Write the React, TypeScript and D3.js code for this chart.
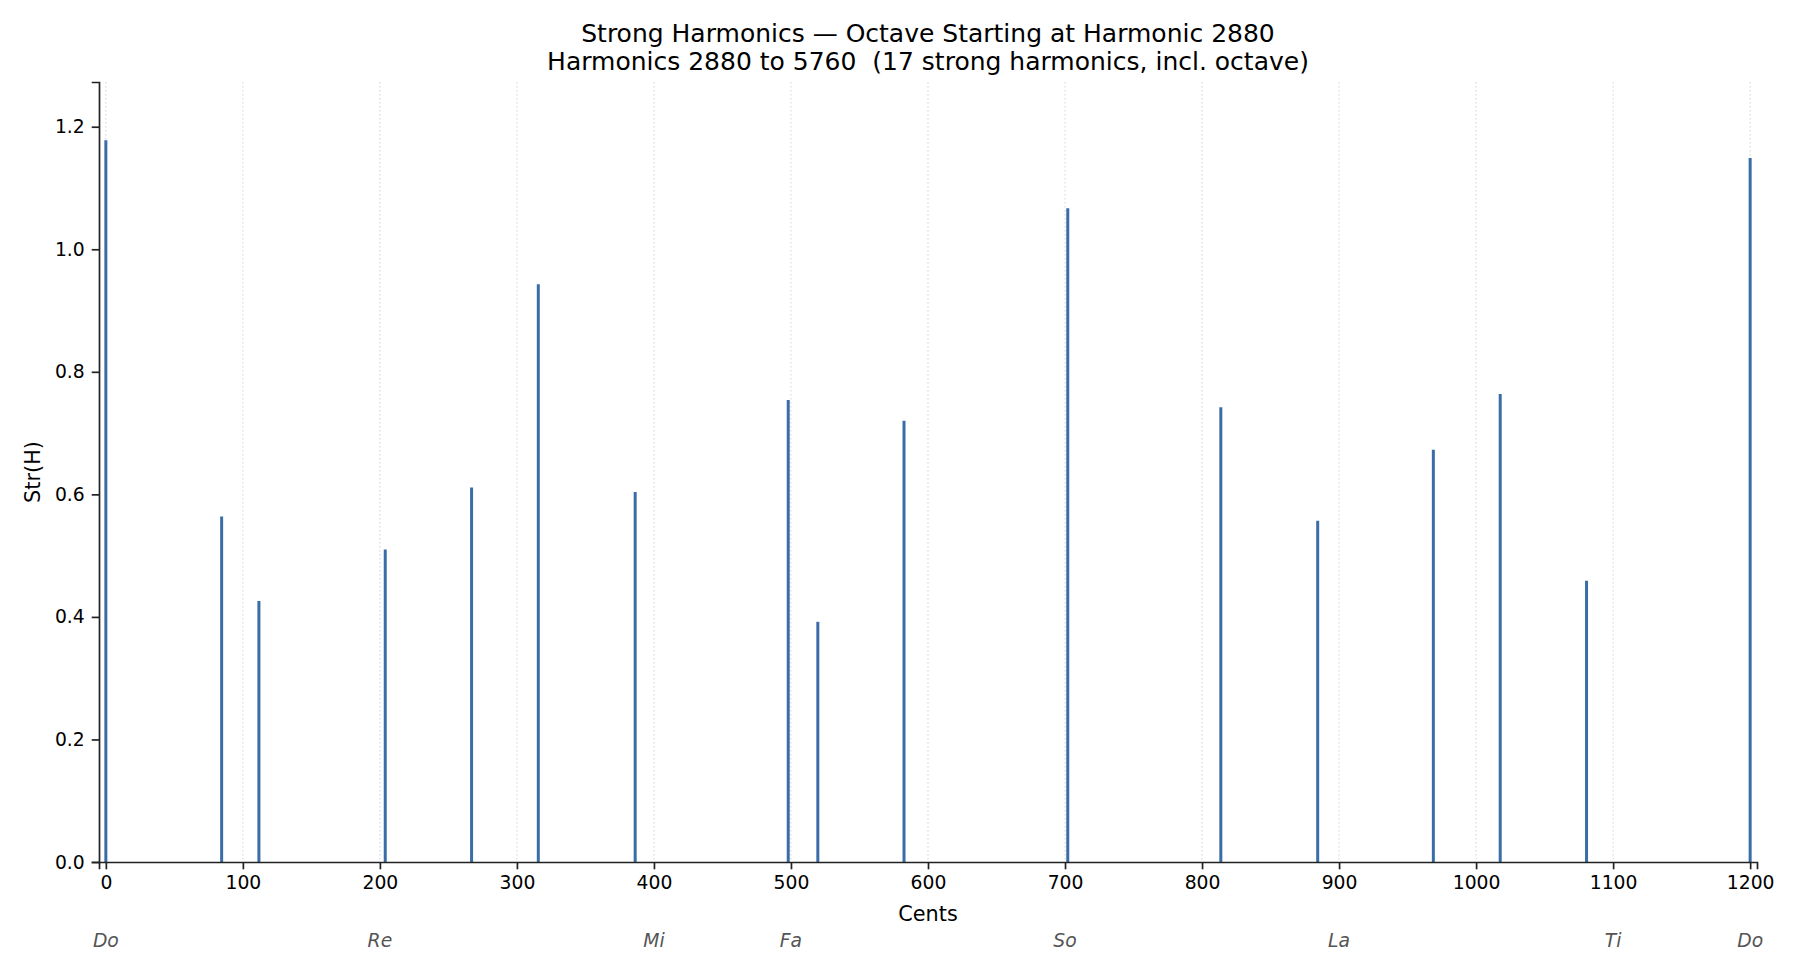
import React, { useRef, useEffect } from "react";
import * as d3 from "d3";

// strong harmonics in the octave 2880..5760, position in cents and strength
const cents = [
  0, 84.5, 111.7, 203.9, 266.9, 315.6, 386.3, 498.0, 519.6, 582.5, 702.0,
  813.7, 884.4, 968.8, 1017.6, 1080.6, 1200,
];
const strength = [
  1.178, 0.564, 0.426, 0.51, 0.611, 0.943, 0.604, 0.754, 0.392, 0.72, 1.067,
  0.742, 0.557, 0.673, 0.764, 0.459, 1.149,
];

const xTicks = [0, 100, 200, 300, 400, 500, 600, 700, 800, 900, 1000, 1100, 1200];
const yTicks = [0, 0.2, 0.4, 0.6, 0.8, 1.0, 1.2];

const solfegeNames = ["Do", "Re", "Mi", "Fa", "So", "La", "Ti", "Do"];
const solfegeCents = [0, 200, 400, 500, 700, 900, 1100, 1200];

const titleLines = [
  "Strong Harmonics \u2014 Octave Starting at Harmonic 2880",
  "Harmonics 2880 to 5760  (17 strong harmonics, incl. octave)",
];

const W = 1800;
const H = 975;

const App: React.FC = () => {
  const svgRef = useRef(null);

  useEffect(() => {
    if (!svgRef.current) return;
    const svg = d3.select(svgRef.current);
    svg.selectAll("*").remove();

    const left = 99;
    const right = 1757;
    const top = 82;
    const bottom = 862;
    const font = "DejaVu Sans, sans-serif";
    const tickSize = 18.75;
    const labelSize = 20.8;

    const x = d3.scaleLinear().domain([-5, 1205]).range([left, right]);
    const y = d3.scaleLinear().domain([0, 1.273]).range([bottom, top]);

    // dotted vertical grid
    svg
      .append("g")
      .selectAll("line")
      .data(xTicks)
      .enter()
      .append("line")
      .attr("x1", (d) => x(d))
      .attr("x2", (d) => x(d))
      .attr("y1", top)
      .attr("y2", bottom)
      .attr("stroke", "#d2d2d2")
      .attr("stroke-width", 1)
      .attr("stroke-dasharray", "1.5,2.5");

    // stems
    svg
      .append("g")
      .selectAll("line")
      .data(cents)
      .enter()
      .append("line")
      .attr("x1", (d) => x(d))
      .attr("x2", (d) => x(d))
      .attr("y1", y(0))
      .attr("y2", (d, i) => y(strength[i]))
      .attr("stroke", "#3a6da8")
      .attr("stroke-width", 3);

    // x axis
    const xAxis = d3
      .axisBottom(x)
      .tickValues(xTicks)
      .tickSize(7.3)
      .tickPadding(6)
      .tickFormat((d) => String(d));
    const gx = svg
      .append("g")
      .attr("transform", `translate(0,${bottom})`)
      .call(xAxis);
    gx.select(".domain").attr("stroke", "#222").attr("stroke-width", 1.7);
    gx.selectAll(".tick line").attr("stroke", "#222").attr("stroke-width", 1.7);
    gx.selectAll(".tick text")
      .attr("fill", "#000")
      .style("font-family", font)
      .style("font-size", `${tickSize}px`);

    // y axis
    const yAxis = d3
      .axisLeft(y)
      .tickValues(yTicks)
      .tickSize(7.3)
      .tickPadding(7)
      .tickFormat(d3.format(".1f"));
    const gy = svg
      .append("g")
      .attr("transform", `translate(${left},0)`)
      .call(yAxis);
    gy.select(".domain").attr("stroke", "#222").attr("stroke-width", 1.7);
    gy.selectAll(".tick line").attr("stroke", "#222").attr("stroke-width", 1.7);
    gy.selectAll(".tick text")
      .attr("fill", "#000")
      .style("font-family", font)
      .style("font-size", `${tickSize}px`);

    // axis labels
    svg
      .append("text")
      .attr("x", (left + right) / 2)
      .attr("y", 921)
      .attr("text-anchor", "middle")
      .style("font-family", font)
      .style("font-size", `${labelSize}px`)
      .text("Cents");

    svg
      .append("text")
      .attr("transform", `translate(40,${(top + bottom) / 2}) rotate(-90)`)
      .attr("text-anchor", "middle")
      .style("font-family", font)
      .style("font-size", `${labelSize}px`)
      .text("Str(H)");

    // solfege names under the axis
    svg
      .append("g")
      .selectAll("text")
      .data(solfegeNames)
      .enter()
      .append("text")
      .attr("x", (d, i) => x(solfegeCents[i]))
      .attr("y", 947)
      .attr("text-anchor", "middle")
      .attr("fill", "#555")
      .style("font-family", font)
      .style("font-style", "italic")
      .style("font-size", `${tickSize}px`)
      .text((d) => d);

    // title
    svg
      .append("g")
      .selectAll("text")
      .data(titleLines)
      .enter()
      .append("text")
      .attr("x", (left + right) / 2)
      .attr("y", (d, i) => 42 + i * 28)
      .attr("text-anchor", "middle")
      .style("font-family", font)
      .style("font-size", "25px")
      .style("white-space", "pre")
      .text((d) => d);
  }, []);

  return (
    <svg
      ref={svgRef}
      width={W}
      height={H}
      style={{ position: "absolute", left: 0, top: 0, background: "#fff" }}
    ></svg>
  );
};

export default App;
